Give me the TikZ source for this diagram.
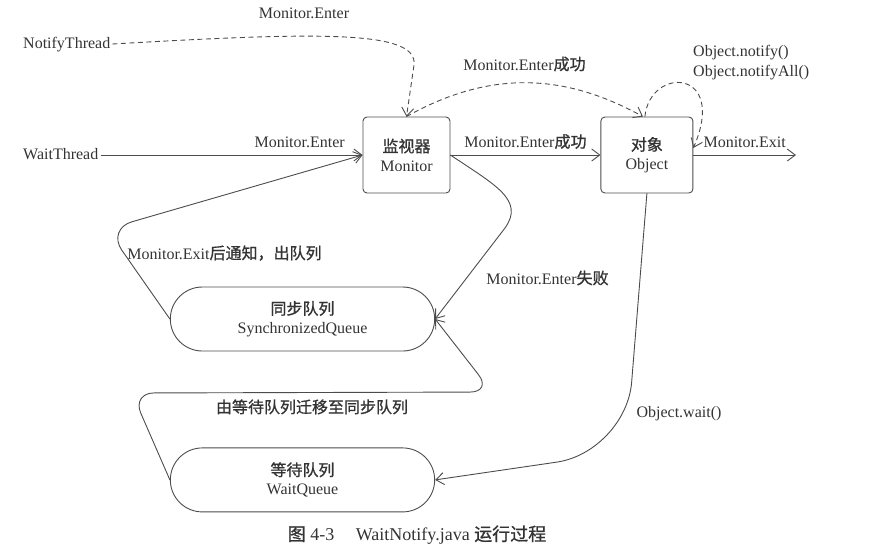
\documentclass[tikz,border=0pt]{standalone}
\usepackage{fontspec}
\setmainfont{Liberation Serif}
\newfontfamily\cjk{Noto Sans CJK SC}[FakeBold=1]
\usetikzlibrary{arrows.meta,positioning,shapes.misc}

\tikzset{
  every node/.style={font=\fontsize{16}{19}\selectfont, text=black!80},
  box/.style={draw=black!70, line width=0.9pt, rounded corners=4pt, minimum height=76pt, align=center, inner sep=2pt},
  queue/.style={draw=black!70, line width=0.9pt, rounded rectangle, minimum width=271pt, minimum height=64pt, align=center},
  lbl/.style={inner sep=2pt, text height=11pt, text depth=3pt},
  conn/.style={draw=black!70, line width=0.9pt, -{Straight Barb[length=8pt,width=12pt]}},
  notify/.style={conn, dash pattern=on 5pt off 3.5pt},
}

\begin{document}
\begin{tikzpicture}[x=1pt, y=-1pt]
    \useasboundingbox (0,0) rectangle (892,558);
    \node[box, minimum width=87pt] (M) at (406.5,155) {{\cjk 监视器}\\Monitor};
    \node[box, minimum width=92pt, right=150pt of M] (O) {{\cjk 对象}\\Object};
    \node[queue] (SQ) at (302.5,319) {{\cjk 同步队列}\\SynchronizedQueue};
    \node[queue, below=96pt of SQ] (WQ) {{\cjk 等待队列}\\WaitQueue};
    \node[lbl, anchor=west] (WT) at (21,155) {WaitThread};
    \node[lbl, anchor=west] (NT) at (21,44) {NotifyThread};
    \coordinate (out) at (796,155);
    % labels away from the lines
    \node[lbl] (lTopEnter) at (304,14) {Monitor.Enter};
    \node[lbl] (lDashOk) at (524.5,66) {Monitor.Enter{\cjk 成功}};
    \node[inner sep=2pt, align=left, anchor=west, font=\fontsize{16}{20}\selectfont] (lNotify) at (691,63) {Object.notify()\\Object.notifyAll()};
    \node[lbl] (lFail) at (547.5,280) {Monitor.Enter{\cjk 失败}};
    \node[lbl] (lExitOut) at (224.5,255) {Monitor.Exit{\cjk 后通知，出队列}};
    \node[lbl] (lWait) at (679,413) {Object.wait()};
    \node[font=\fontsize{18}{21}\selectfont] (cap) at (417,535) {{\cjk 图} 4-3\hspace{1.2em}WaitNotify.java {\cjk 运行过程}};
    % connectors
    \draw[conn] (WT) -- node[lbl, pos=.76, above=2pt] {Monitor.Enter} (M.west);
    \draw[notify] (NT.east) .. controls (320,32) and (418,30) .. (414,65) -- (M.north);
    \draw[notify] (M.north) .. controls (488,71) and (562,72) .. ([xshift=-4pt]O.north);
    \draw[notify] ([xshift=-2pt]O.north) .. controls (650,66) and (728,68) .. ([yshift=7pt]O.east);
    \draw[conn] (M.east) -- node[lbl, above=2pt] {Monitor.Enter{\cjk 成功}} (O.west);
    \draw[conn] (O.east) -- node[lbl, above=2pt] {Monitor.Exit} (out);
    \draw[conn] (M.east) .. controls (495,185) and (525,200) .. (505,228) -- (SQ.east);
    \draw[conn, rounded corners=26pt] (SQ.west) -- (107,229) -- (M.west);
    \draw[conn, rounded corners=22pt] (WQ.west) -- (132,393) -- node[lbl, below=7pt] {\cjk 由等待队列迁移至同步队列} (492,392) -- (SQ.east);
    \draw[conn, rounded corners=70pt] (O.south) -- (626,452) -- (WQ.east);
\end{tikzpicture}
\end{document}
